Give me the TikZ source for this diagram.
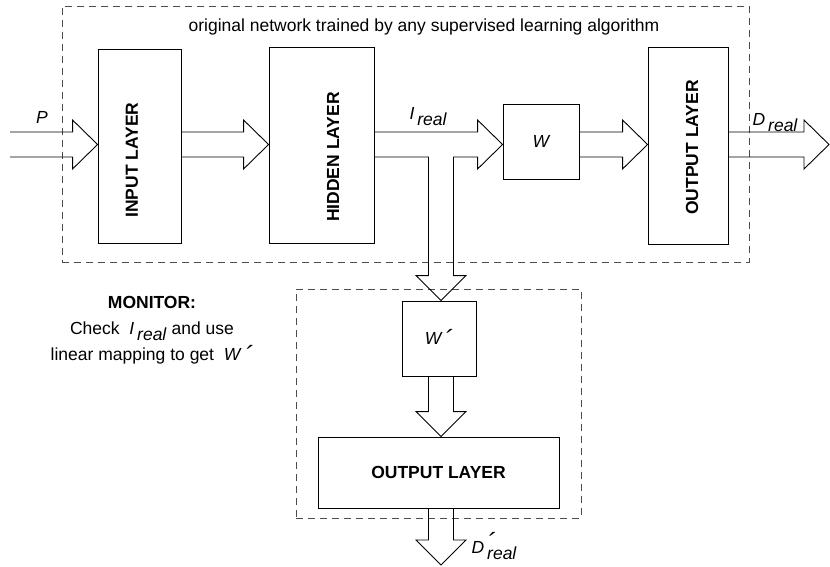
\documentclass[tikz,border=0pt]{standalone}
\usepackage{fontspec}
\setmainfont{Liberation Sans}
\usetikzlibrary{positioning,calc}

% lowered index text (as in I real)
\newcommand{\lo}[1]{\raisebox{-6pt}{#1}}
% prime mark
\newcommand{\prm}{\raisebox{-4pt}{\fontsize{26}{26}\selectfont ´}}
% hollow block arrows: start point, tip
\newcommand{\hollowright}[2]{%
  \draw[fat] ($(#1)+(0,-12.5)$) -- ($(#2)+(-25,-12.5)$) -- ++(0,-12) -- (#2)
    -- ($(#2)+(-25,24.5)$) -- ++(0,-12) -- ($(#1)+(0,12.5)$);}
\newcommand{\hollowdown}[2]{%
  \draw[fat] ($(#1)+(-12.5,0)$) -- ($(#2)+(-12.5,-25)$) -- ++(-12.5,0) -- (#2)
    -- ($(#2)+(25,-25)$) -- ++(-12.5,0) -- ($(#1)+(12.5,0)$);}

\begin{document}
\begin{tikzpicture}[
  x=1pt, y=-1pt,
  font=\fontsize{17.5}{21}\selectfont,
  layer/.style={draw, line width=0.9pt, inner sep=0pt},
  frame/.style={draw=black!70, line width=1pt, dash pattern=on 7pt off 5pt, inner sep=0pt},
  caps/.style={font=\fontsize{17.5}{21}\selectfont\bfseries},
  sym/.style={font=\fontsize{17.5}{21}\selectfont\itshape},
  fat/.style={line width=0.9pt, line join=miter}
]
\useasboundingbox (0,0) rectangle (830,566);

% dashed frames
\node[frame, minimum width=687pt, minimum height=256pt] (net) at (405.5,134) {};
\node[frame, minimum width=285pt, minimum height=229pt] (mon) at (438.5,403.5) {};
\node (ttl) at (424,27) {original network trained by any supervised learning algorithm};

% layers
\node[layer, minimum width=83pt,  minimum height=194pt] (inl)  at (139.5,146) {};
\node[layer, minimum width=105pt, minimum height=196pt] (hid)  at (321.5,145) {};
\node[layer, minimum width=76pt,  minimum height=75pt, sym] (wbox) at (541,141.5) {W};
\node[layer, minimum width=80pt,  minimum height=197pt] (outl) at (688,145.5) {};
\node[layer, minimum width=74pt,  minimum height=75pt, sym] (wpr) at (439,338.5) {W\,\prm};
\node[layer, minimum width=241pt, minimum height=71pt, caps] (out2) at (438.5,472.5) {OUTPUT LAYER};

\node[caps, rotate=90] (inltxt)  at (132,160) {INPUT LAYER};
\node[caps, rotate=90] (hidtxt)  at (333,157) {HIDDEN LAYER};
\node[caps, rotate=90] (outltxt) at (692,147.5) {OUTPUT LAYER};

% rows and columns of the block arrows
\coordinate (row) at (0,144.5);
\coordinate (col) at (441,0);
\coordinate (pin)  at (10,144.5);
\coordinate (dout) at (829,144.5);
\coordinate (dend) at (441,565);
\coordinate (wtip) at (wbox.west |- row);
\coordinate (dtip) at (wpr.north -| col);

\hollowright{pin}{inl.west |- row}
\hollowright{inl.east |- row}{hid.west |- row}
\hollowright{wbox.east |- row}{outl.west |- row}
\hollowright{outl.east |- row}{dout}
\hollowdown{wpr.south -| col}{out2.north -| col}
\hollowdown{out2.south -| col}{dend}

% hidden layer to W, with the branch down to W'
\draw[fat] ($(hid.east |- row)+(0,-12.5)$) -- ($(wtip)+(-25,-12.5)$) -- ++(0,-12) -- (wtip)
  -- ($(wtip)+(-25,24.5)$) -- ++(0,-12) -- ($(col |- row)+(12.5,12.5)$)
  -- ($(dtip)+(12.5,-25)$) -- ++(12.5,0) -- (dtip) -- ($(dtip)+(-25,-25)$) -- ++(12.5,0)
  -- ($(col |- row)+(-12.5,12.5)$) -- ($(hid.east |- row)+(0,12.5)$);

% labels
\node[sym] (plbl) at (42,117) {P};
\node[sym] (ilbl) at (428,117) {I\,\lo{real}};
\node[sym] (dlbl) at (775,123) {D\,\lo{real}};
\node[sym] (dplbl) at (494,546) {D\rlap{\raisebox{6pt}{\,\prm}}\,\lo{real}};

\node[align=center, font=\fontsize{17.5}{26}\selectfont] (note) at (152,330)
  {\textbf{MONITOR:}\\Check\ \ \textit{I}\,\lo{\textit{real}} and use\\linear mapping to get\ \ \textit{W}\,\textit{\prm}};
\end{tikzpicture}
\end{document}
